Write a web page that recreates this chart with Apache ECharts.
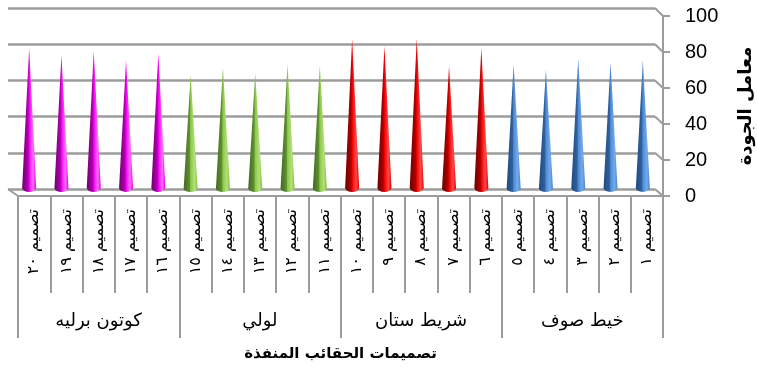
<!DOCTYPE html>
<html><head><meta charset="utf-8">
<script src="https://cdn.jsdelivr.net/npm/echarts@6/dist/echarts.min.js"></script>
<style>html,body{margin:0;padding:0;background:#fff}#c{width:757px;height:368px}</style>
</head><body><div id="c"></div>
<script>
const categories = ['تصميم ١','تصميم ٢','تصميم ٣','تصميم ٤','تصميم ٥','تصميم ٦','تصميم ٧','تصميم ٨','تصميم ٩','تصميم ١٠','تصميم ١١','تصميم ١٢','تصميم ١٣','تصميم ١٤','تصميم ١٥','تصميم ١٦','تصميم ١٧','تصميم ١٨','تصميم ١٩','تصميم ٢٠'];
const groups = ['خيط صوف','شريط ستان','لولي','كوتون برليه'];
const values = [73,72,74,68,71, 80,70,85,81,85, 70,71,66,69,65, 77,73,78,76,80];
const yTicks = [0,20,40,60,80,100];
const xTitle = 'تصميمات الحقائب المنفذة';
const yTitle = 'معامل الجودة';

const palettes = [
  ['#1F4A82','#2F619F','#4F8AD2','#72AAEC','#4A86CE'],
  ['#6E0000','#B00000','#F00000','#FF4A4A','#E00000'],
  ['#43691F','#5F9130','#8EC84A','#B2E07A','#86BF44'],
  ['#6E006E','#B000B0','#F000F0','#FF70FF','#E000E0']
];
function grad(p){
  return {type:'linear',x:0,y:0,x2:1,y2:0,colorStops:[
    {offset:0,color:p[0]},{offset:0.42,color:p[1]},{offset:0.5,color:p[2]},{offset:0.78,color:p[3]},{offset:1,color:p[4]}]};
}
const coneData = values.map((v,i)=>({value:v,itemStyle:{color:grad(palettes[Math.floor(i/5)])}}));

const chart = echarts.init(document.getElementById('c'));
const gray = '#9C9C9C';
chart.setOption({
  animation:false,
  grid:[
    {left:8,right:102,top:8,bottom:179,outerBoundsMode:'none',containLabel:false},
    {left:13,right:98,top:12,bottom:176,outerBoundsMode:'none',containLabel:false},
    {left:18,right:94,top:16,bottom:172,outerBoundsMode:'none',containLabel:false}
  ],
  xAxis:[
    {gridIndex:0,type:'category',data:categories,inverse:true,show:false},
    {gridIndex:1,type:'category',data:categories,inverse:true,show:false},
    {gridIndex:2,type:'category',data:categories,inverse:true,position:'bottom',
     axisLine:{lineStyle:{color:gray,width:2}},
     axisTick:{show:true,interval:0,length:97,lineStyle:{color:gray,width:2}},
     axisLabel:{interval:0,rotate:90,margin:13,fontFamily:'DejaVu Sans',fontSize:16,color:'#000'}},
    {gridIndex:2,type:'category',data:groups,inverse:true,position:'bottom',
     axisLine:{show:false},
     axisTick:{show:true,interval:0,length:142,lineStyle:{color:gray,width:2}},
     axisLabel:{interval:0,margin:116,fontFamily:'DejaVu Sans',fontSize:18,color:'#000'},
     name:xTitle,nameLocation:'middle',nameGap:151,
     nameTextStyle:{fontFamily:'DejaVu Sans',fontSize:15,fontWeight:'bold',color:'#000'}}
  ],
  yAxis:[
    {gridIndex:0,type:'value',min:0,max:100,interval:20,
     axisLine:{show:false},axisTick:{show:false},axisLabel:{show:false},
     splitLine:{lineStyle:{color:gray,width:2.5}}},
    {gridIndex:1,type:'value',min:0,max:100,interval:20,show:false},
    {gridIndex:2,type:'value',min:0,max:100,interval:20,position:'right',
     axisLine:{show:true,lineStyle:{color:gray,width:2}},
     axisTick:{show:true,length:7,lineStyle:{color:gray,width:2}},
     splitLine:{show:false},
     axisLabel:{margin:22,fontFamily:'Liberation Sans',fontSize:20,color:'#000'},
     name:yTitle,nameLocation:'middle',nameRotate:90,nameGap:74,
     nameTextStyle:{fontFamily:'DejaVu Sans',fontSize:18,fontWeight:'bold',color:'#000'}}
  ],
  series:[{
    type:'pictorialBar',xAxisIndex:1,yAxisIndex:1,
    symbol:'path://M0,97 L50,0 L100,97 A50,3 0 0 1 0,97 Z',
    symbolSize:[14,'100%'],
    data:coneData
  }]
});

// 3D wall connectors between back and front planes
const lines = [];
yTicks.forEach(v=>{
  const b = chart.convertToPixel({xAxisIndex:0,yAxisIndex:0},[categories.length-1, v]);
  const f = chart.convertToPixel({xAxisIndex:2,yAxisIndex:2},[0, v]);
  const bx = chart.convertToPixel({xAxisIndex:0},categories[0]);
  const fx = chart.convertToPixel({xAxisIndex:2},categories[0]);
  const hb = 16.125, hf = 16.125;
  lines.push({type:'line',shape:{x1:bx+hb,y1:b[1],x2:fx+hf,y2:f[1]},style:{stroke:gray,lineWidth:2}});
});
{
  const b = chart.convertToPixel({xAxisIndex:0,yAxisIndex:0},[categories.length-1, 0]);
  const f = chart.convertToPixel({xAxisIndex:2,yAxisIndex:2},[categories.length-1, 0]);
  const bl = chart.convertToPixel({xAxisIndex:0},categories[categories.length-1]);
  const fl = chart.convertToPixel({xAxisIndex:2},categories[categories.length-1]);
  lines.push({type:'line',shape:{x1:bl-16.125,y1:b[1],x2:fl-16.125,y2:f[1]},style:{stroke:gray,lineWidth:2}});
}
chart.setOption({graphic:lines});
</script></body></html>
